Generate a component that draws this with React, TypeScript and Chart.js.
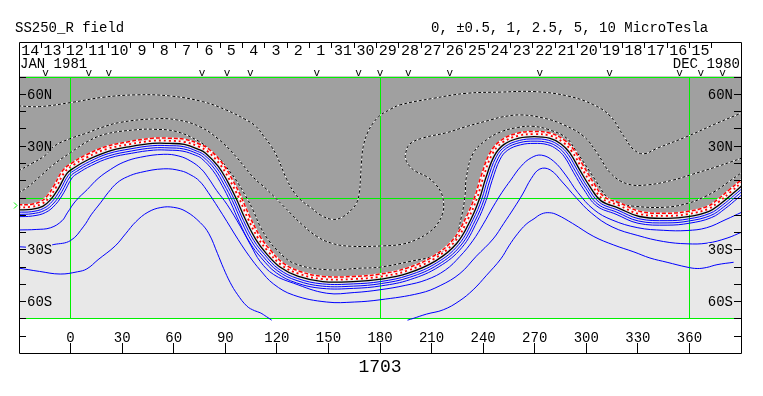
import React, { useEffect, useRef } from 'react';
import { Chart, registerables } from 'chart.js';

Chart.register(...registerables);

// ---------- axes / labels ----------
const LON_MIN = -30;
const LON_MAX = 390;
const LAT_MIN = -90;
const LAT_MAX = 90;
const MAP_LAT = 70;
const X_TICKS = [0, 30, 60, 90, 120, 150, 180, 210, 240, 270, 300, 330, 360];
const Y_TICKS = [-80, -70, -60, -50, -40, -30, -20, -10, 0, 10, 20, 30, 40, 50, 60, 70];
const Y_LABELS: [number, string][] = [[60, '60N'], [30, '30N'], [-30, '30S'], [-60, '60S']];
const GREEN_LON = [0, 180, 360];
const GREEN_LAT = [-70, 0, 70];
const DAY_LABELS = ['15', '16', '17', '18', '19', '20', '21', '22', '23', '24', '25', '26', '27', '28', '29', '30', '31',
  '1', '2', '3', '4', '5', '6', '7', '8', '9', '10', '11', '12', '13', '14'];
const DAY_RIGHT_LON = 373;
const DAY_STEP = 13;
const OBS_LON = [-14.5, 10.6, 22.2, 76.5, 91, 104.5, 143.3, 167.5, 180, 196.4, 220.6, 272.9, 313.5, 354.2, 366.6, 379.2];
const B0_LAT = -4.6;
const TITLE_LEFT = 'SS250_R field';
const TITLE_RIGHT = '0, \u00b10.5, 1, 2.5, 5, 10 MicroTesla';
const ROTATION = '1703';
const LEFT_DATE = 'JAN 1981';
const RIGHT_DATE = 'DEC 1980';

// ---------- contours [lon, lat] ----------
const NEUTRAL: number[][] = [[-30.5,-4.2],[-23.2,-4.0],[-17.4,-2.3],[-13.9,0.6],[-9.9,6.4],[-4.6,15.6],[0.4,19.7],[9.1,24.7],[20.7,29.5],[34.3,32.4],[47.6,34.3],[57.5,34.3],[66.8,33.6],[75.5,30.7],[80.7,27.8],[88.3,19.8],[94.1,10.4],[99.1,0.6],[104.5,-11.6],[110.3,-22.6],[116.1,-30.3],[123.7,-38.0],[133.5,-42.8],[146.9,-45.7],[164.3,-45.7],[180,-44.3],[195.5,-40.9],[210.8,-34.1],[222.4,-24.5],[230.3,-11.0],[235.2,0.6],[238.7,12.1],[243.9,25.6],[250.3,33.0],[260.0,37.2],[269.6,38.2],[279.3,37.2],[287.0,33.4],[292.8,27.6],[298.6,17.9],[304.4,8.3],[310.2,0.6],[319.9,-3.3],[331.5,-8.1],[347.0,-9.1],[358.7,-8.1],[370.3,-5.2],[376.3,-1.2],[383.2,4.5],[390.5,10.5]];
const NEUTRAL_DOT: number[][] = [[-30.5,-5.7],[-23.0,-5.4],[-16.8,-3.7],[-12.8,-0.4],[-8.6,5.6],[-3.4,14.7],[1.2,18.5],[9.8,23.4],[21.1,28.1],[34.6,30.9],[47.7,32.8],[57.4,32.8],[66.5,32.1],[74.9,29.3],[79.7,26.7],[87.1,18.9],[92.8,9.7],[97.8,0.0],[103.2,-12.2],[109.0,-23.4],[115.0,-31.3],[122.8,-39.2],[133.0,-44.2],[146.8,-47.2],[164.4,-47.2],[180.2,-45.8],[196.0,-42.3],[211.6,-35.4],[223.5,-25.5],[231.6,-11.7],[236.6,0.1],[240.1,11.6],[245.2,24.9],[251.2,31.8],[260.4,35.7],[269.6,36.7],[278.9,35.8],[286.1,32.2],[291.6,26.7],[297.3,17.1],[303.2,7.5],[309.3,-0.6],[319.3,-4.7],[331.2,-9.6],[347.0,-10.6],[359.0,-9.6],[370.9,-6.6],[377.3,-2.3],[384.3,3.5],[391.2,9.4]];
const ZERO_BLACK: number[][] = [[-30.5,-7.2],[-22.8,-6.9],[-16.2,-5.1],[-11.7,-1.4],[-7.3,4.8],[-2.2,13.8],[2.1,17.2],[10.4,22.0],[21.6,26.6],[34.8,29.5],[47.8,31.3],[57.4,31.3],[66.2,30.7],[74.3,27.9],[78.7,25.5],[85.9,18.0],[91.5,8.9],[96.4,-0.7],[101.8,-12.9],[107.7,-24.2],[113.8,-32.3],[122.0,-40.4],[132.5,-45.7],[146.6,-48.7],[164.4,-48.7],[180.5,-47.3],[196.4,-43.8],[212.4,-36.7],[224.7,-26.5],[233.0,-12.4],[238.0,-0.4],[241.5,11.1],[246.5,24.1],[252.0,30.6],[260.8,34.3],[269.6,35.2],[278.5,34.3],[285.3,31.0],[290.4,25.8],[296.0,16.3],[301.9,6.6],[308.4,-1.8],[318.8,-6.1],[330.9,-11.0],[347.0,-12.1],[359.2,-11.1],[371.4,-8.0],[378.3,-3.5],[385.4,2.4],[392.2,8.3]];
const POS_1: number[][] = [[-30.5,-8.5],[-22.6,-8.2],[-15.7,-6.3],[-10.7,-2.3],[-6.2,4.1],[-1.2,13.0],[2.8,16.1],[11.0,20.8],[21.9,25.4],[35.1,28.2],[47.9,30.0],[57.3,30.0],[65.9,29.4],[73.8,26.7],[77.9,24.5],[84.9,17.2],[90.4,8.3],[95.2,-1.2],[100.6,-13.4],[106.6,-24.9],[112.9,-33.1],[121.2,-41.5],[132.1,-46.9],[146.5,-50.0],[164.5,-50.0],[180.6,-48.6],[196.8,-45.0],[213.0,-37.8],[225.7,-27.3],[234.1,-12.9],[239.2,-0.9],[242.7,10.7],[247.6,23.5],[252.8,29.5],[261.1,33.0],[269.6,33.9],[278.1,33.1],[284.5,29.9],[289.4,25.0],[294.9,15.7],[300.8,5.9],[307.6,-2.8],[318.3,-7.3],[330.6,-12.3],[347.0,-13.4],[359.4,-12.4],[371.9,-9.2],[379.1,-4.5],[386.3,1.5],[393.1,7.3]];
const POS_2: number[][] = [[-30.5,-9.8],[-22.4,-9.4],[-15.2,-7.5],[-9.7,-3.2],[-5.1,3.4],[-0.2,12.2],[3.5,15.1],[11.6,19.7],[22.3,24.1],[35.3,26.9],[48.0,28.7],[57.3,28.7],[65.7,28.1],[73.3,25.6],[77.1,23.5],[83.9,16.4],[89.2,7.7],[94.1,-1.8],[99.5,-14.0],[105.5,-25.6],[111.9,-34.0],[120.5,-42.5],[131.7,-48.1],[146.4,-51.3],[164.5,-51.3],[180.8,-49.8],[197.2,-46.2],[213.7,-38.9],[226.7,-28.1],[235.3,-13.5],[240.5,-1.3],[244.0,10.3],[248.8,22.9],[253.5,28.5],[261.5,31.8],[269.6,32.6],[277.8,31.8],[283.8,28.9],[288.3,24.2],[293.8,15.0],[299.8,5.2],[306.8,-3.9],[317.8,-8.5],[330.3,-13.6],[347.0,-14.7],[359.7,-13.6],[372.4,-10.4],[379.9,-5.5],[387.2,0.6],[393.9,6.4]];
const POS_3: number[][] = [[-30.5,-11.1],[-22.2,-10.7],[-14.6,-8.7],[-8.7,-4.0],[-4.0,2.7],[0.9,11.4],[4.2,14.0],[12.1,18.5],[22.7,22.9],[35.5,25.6],[48.2,27.4],[57.2,27.4],[65.4,26.8],[72.8,24.4],[76.2,22.6],[82.8,15.6],[88.1,7.0],[92.9,-2.4],[98.3,-14.6],[104.4,-26.3],[110.9,-34.9],[119.7,-43.6],[131.3,-49.4],[146.3,-52.6],[164.6,-52.6],[181.0,-51.1],[197.6,-47.5],[214.4,-40.0],[227.6,-29.0],[236.4,-14.1],[241.7,-1.7],[245.2,9.8],[249.9,22.2],[254.3,27.4],[261.8,30.5],[269.6,31.3],[277.4,30.6],[283.0,27.8],[287.3,23.5],[292.7,14.3],[298.7,4.4],[306.1,-4.9],[317.3,-9.7],[330.1,-14.9],[347.0,-16.0],[359.9,-14.9],[372.9,-11.6],[380.8,-6.4],[388.2,-0.3],[394.8,5.4]];
const POS_4: number[][] = [[-30.5,-18.8],[-20,-18.5],[-11.6,-17.5],[-5,-13.5],[-1.9,-8.9],[3,-2],[9.7,4.6],[16,11],[23.2,16.2],[31,20.5],[40.6,23.3],[54.2,25],[63,24],[70,21],[76,16.5],[80,11.5],[85,4],[91,-4],[98.7,-16.6],[105,-28],[110.3,-37],[118,-44.5],[129.7,-49.6],[149,-55.4],[165,-55],[180,-53.4],[195,-50.8],[207.1,-47.6],[218,-42],[226.5,-34.1],[234,-25],[240,-15.5],[246,-5],[251,3],[256,10],[262,18],[268,23],[274,24.5],[281,21],[288,13],[295,3],[304.4,-7],[315,-13],[330,-17.5],[345,-19],[358.6,-19.1],[370,-17.5],[381.3,-12.7],[390.5,-8.5]];
const POS_5: number[][] = [[-30.5,-28.5],[-20,-28.8],[-9.7,-27.2],[0,-24.9],[7.7,-16.6],[12,-10],[17.4,-3.1],[22,3],[27.1,8.5],[33,12],[40.6,14.5],[54.2,16.6],[64,15.5],[70,13],[75,9.5],[80,3],[88.5,-10],[97.5,-24.4],[104,-34],[110.3,-42],[118,-50],[129.7,-56.5],[149,-60.5],[165,-60.5],[180,-59.2],[203.2,-55.4],[215,-51],[226.5,-44],[236,-34],[245.8,-24],[252,-15],[258,-6],[263,2],[268,11],[273,16.5],[279,16],[286,9],[294,0],[303,-9],[315,-17],[330,-22],[345,-25.5],[358.6,-26.8],[370.3,-26.4],[381.9,-23.5],[390.5,-20]];
const POS_6A: number[][] = [[-30.5,-40.8],[-18,-42.8],[-6,-44.3],[4,-43],[9.5,-41.3],[16,-36],[26,-28],[32,-21],[38,-14],[45,-8.5],[52.5,-5.8],[60,-5.7],[67.2,-8.1],[75.5,-14.6],[80.5,-21],[85.5,-32.5],[89,-41],[92.9,-49.3],[97,-56],[102.6,-62.9],[107,-65.5],[110.3,-66.7],[114,-69],[117,-71]];
const POS_6B: number[][] = [[196,-71],[199.3,-70],[207,-67.5],[216.8,-65],[226,-60],[234.2,-53.4],[242,-45],[250.3,-35.5],[255,-28],[260,-21],[265,-15.5],[269.6,-12.3],[274,-9.5],[278.5,-8.8],[283,-10],[292,-15],[304.4,-22.6],[316,-27.5],[327.7,-31.5],[337,-35],[347,-37.5],[358.6,-40.3],[364.5,-41.1],[370,-40.5],[376,-38.9],[385.7,-37.5]];
const NEG_1: number[][] = [[-30.5,53],[-18,52.6],[0.4,55],[18.8,58],[38.1,59.4],[57.5,58.8],[76.8,55.5],[90.4,50.7],[102,45],[108,41],[112.3,35.5],[116.5,30],[120,23.9],[125.8,10.4],[130,3],[134,-1.5],[140,-6],[146,-10.5],[152.9,-12.7],[158.7,-11],[163.5,-7],[166.5,-3],[168,3],[168.6,10.4],[169.2,20],[170.3,29.7],[173,38],[176.1,43.2],[180,47.5],[185.8,50.9],[191.6,53.6],[211,57.4],[230.3,60.3],[250.3,61],[269.6,61.3],[289,58.8],[304.4,53.6],[314.1,46.9],[321.9,35.3],[327.7,27.6],[333.5,25.3],[341.2,28.5],[358.6,35.3],[376,43],[390.5,49]];
const NEG_2: number[][] = [[-30.5,15.3],[-22,20],[-15.1,24.1],[-9.3,29.9],[0.4,34.3],[9.1,37.2],[18,40.5],[28.5,43.4],[47.8,45.5],[61.4,45],[74.9,41.1],[86.5,33.4],[96.2,23.7],[105.9,12.1],[114.2,4.6],[123.9,-5],[133.5,-14.6],[143.2,-22.5],[152,-26.5],[162.6,-28.2],[181.9,-28],[193,-27],[201.3,-24.3],[208,-20.5],[212.9,-16],[216.5,-9],[217,-3],[215.5,3],[212,8],[207.1,12.1],[201,15],[197.4,17.9],[195,22],[195,26],[197.4,31],[205.1,34.5],[218.7,37.5],[230.3,41.1],[245.8,45.3],[250.3,46.5],[261.9,47.8],[275.4,45.9],[287,42],[298.6,35.3],[306.4,25.6],[314.1,14.1],[323.8,7.9],[335.4,7.3],[350.9,10.2],[360.6,13.1],[376.1,17.9],[390.5,22.8]];
const NEG_3: number[][] = [[-30.5,2.5],[-25,6],[-18,12],[-10,19],[0,26],[10,32.5],[20.7,36.8],[38.1,39.2],[47.8,39.5],[61.4,38.2],[74.9,32.4],[80.5,28],[86.5,22.7],[91.5,16.5],[96.2,10.2],[102,0.6],[106,-7],[110.3,-16.8],[115,-24.5],[120,-30.3],[129.7,-38],[149,-41.8],[168.4,-40.9],[180,-40.3],[197.4,-37],[212.9,-33.2],[222.6,-26.4],[227.4,-11],[229.4,0.6],[230.3,12.1],[234.2,25.6],[242,33.4],[250.3,38],[260,40.5],[269,41.2],[279,39],[288.4,34.5],[294,27],[300,18.1],[306,9],[311.6,0.8],[318,-3],[327.1,-5],[346.5,-5.6],[360,-3.1],[369,0.5],[375.5,4],[382,8.5],[390.5,14.5]];

// ---------- style ----------
const DARK = '#a0a0a0';
const LIGHT = '#e8e8e8';
const GREEN = '#00f000';
const BLUE = '#0000ff';
const RED = '#ff0000';
const FONT = '"Liberation Mono", "DejaVu Sans Mono", monospace';

const pts = (a: number[][]) => a.map(([x, y]) => ({ x, y }));

function line(data: number[][], color: string, width: number, order: number, dash: number[] = []) {
  return {
    type: 'line' as const,
    data: pts(data),
    borderColor: color,
    borderWidth: width,
    borderDash: dash,
    pointRadius: 0,
    tension: 0.4,
    fill: false,
    order,
  };
}

const decoPlugin = {
  id: 'deco',
  beforeDatasetsDraw(chart: any) {
    const { ctx } = chart;
    const xs = chart.scales.x;
    const ys = chart.scales.y;
    const l = xs.getPixelForValue(LON_MIN);
    const r = xs.getPixelForValue(LON_MAX);
    const t = ys.getPixelForValue(MAP_LAT);
    const b = ys.getPixelForValue(-MAP_LAT);
    ctx.save();
    ctx.fillStyle = LIGHT;
    ctx.fillRect(l, t, r - l, b - t);
    ctx.restore();
  },
  afterDatasetDraw(chart: any, args: any) {
    // reference grid (green) right after the polarity fill
    if (args.index !== 0) return;
    const { ctx } = chart;
    const xs = chart.scales.x;
    const ys = chart.scales.y;
    const t = Math.round(ys.getPixelForValue(MAP_LAT));
    const b = Math.round(ys.getPixelForValue(-MAP_LAT));
    const l = Math.round(xs.getPixelForValue(LON_MIN));
    const r = Math.round(xs.getPixelForValue(LON_MAX));
    ctx.save();
    ctx.strokeStyle = GREEN;
    ctx.lineWidth = 1;
    ctx.beginPath();
    for (const lon of GREEN_LON) {
      const px = Math.floor(xs.getPixelForValue(lon)) + 0.5;
      ctx.moveTo(px, t); ctx.lineTo(px, b + 1);
    }
    for (const lat of GREEN_LAT) {
      const py = Math.round(ys.getPixelForValue(lat)) + 0.5;
      ctx.moveTo(l, py); ctx.lineTo(r, py);
    }
    ctx.stroke();
    ctx.restore();
  },
  afterDatasetsDraw(chart: any) {
    const { ctx } = chart;
    const xs = chart.scales.x;
    const ys = chart.scales.y;
    const L = Math.round(xs.getPixelForValue(LON_MIN));
    const R = Math.round(xs.getPixelForValue(LON_MAX));
    const T = Math.round(ys.getPixelForValue(LAT_MAX));
    const B = Math.round(ys.getPixelForValue(LAT_MIN));
    ctx.save();

    // latitude labels with backdrop
    ctx.font = `14px ${FONT}`;
    ctx.textBaseline = 'middle';
    for (const [lat, label] of Y_LABELS) {
      const py = Math.round(ys.getPixelForValue(lat));
      const w = ctx.measureText(label).width;
      ctx.fillStyle = lat > 0 ? DARK : LIGHT;
      ctx.fillRect(L + 7, py - 6, w + 1, 12);
      ctx.fillRect(R - 8 - w, py - 6, w + 1, 12);
      ctx.fillStyle = '#000';
      ctx.textAlign = 'left';
      ctx.fillText(label, L + 8, py + 1);
      ctx.textAlign = 'right';
      ctx.fillText(label, R - 8, py + 1);
    }

    // frame + ticks
    ctx.strokeStyle = '#000';
    ctx.lineWidth = 1;
    ctx.beginPath();
    ctx.rect(L + 0.5, T + 0.5, R - L, B - T);
    for (const lat of Y_TICKS) {
      const py = Math.round(ys.getPixelForValue(lat)) + 0.5;
      ctx.moveTo(L, py); ctx.lineTo(L + 7, py);
      ctx.moveTo(R, py); ctx.lineTo(R - 7, py);
    }
    for (const lon of X_TICKS) {
      const px = Math.floor(xs.getPixelForValue(lon)) + 0.5;
      ctx.moveTo(px, B); ctx.lineTo(px, B - 10);
    }
    DAY_LABELS.forEach((_, j) => {
      const px = Math.floor(xs.getPixelForValue(DAY_RIGHT_LON - DAY_STEP * j)) + 0.5;
      ctx.moveTo(px, T); ctx.lineTo(px, T + 6);
    });
    ctx.stroke();

    // x labels
    ctx.fillStyle = '#000';
    ctx.textAlign = 'center';
    ctx.textBaseline = 'alphabetic';
    for (const lon of X_TICKS) {
      ctx.fillText(String(lon), xs.getPixelForValue(lon), B - 11);
    }
    // day labels
    ctx.font = `15px ${FONT}`;
    DAY_LABELS.forEach((lab, j) => {
      const c = DAY_RIGHT_LON - DAY_STEP * j - DAY_STEP / 2;
      ctx.fillText(lab, xs.getPixelForValue(c), T + 13);
    });
    ctx.font = `14px ${FONT}`;
    ctx.textAlign = 'left';
    ctx.fillText(LEFT_DATE, L + 1, T + 26);
    ctx.textAlign = 'right';
    ctx.fillText(RIGHT_DATE, R - 1, T + 26);

    // observation markers
    ctx.font = `11px ${FONT}`;
    ctx.textAlign = 'center';
    for (const lon of OBS_LON) {
      ctx.fillText('v', xs.getPixelForValue(lon), T + 34);
    }

    // titles
    ctx.font = `14px ${FONT}`;
    ctx.textAlign = 'left';
    ctx.fillText(TITLE_LEFT, 15, 32);
    ctx.fillText(TITLE_RIGHT, 431, 32);
    ctx.font = `18px ${FONT}`;
    ctx.textAlign = 'center';
    ctx.fillText(ROTATION, xs.getPixelForValue(180), 372);

    // sub-earth latitude marker
    const by = Math.round(ys.getPixelForValue(B0_LAT)) + 0.5;
    ctx.strokeStyle = GREEN;
    ctx.beginPath();
    ctx.moveTo(L - 5, by - 3); ctx.lineTo(L - 2, by); ctx.lineTo(L - 5, by + 3);
    ctx.stroke();
    ctx.restore();
  },
};

export default function App() {
  const ref = useRef<HTMLCanvasElement>(null);
  useEffect(() => {
    const datasets: any[] = [];
    datasets.push({
      type: 'line', data: pts(NEUTRAL), borderWidth: 0, borderColor: 'rgba(0,0,0,0)',
      backgroundColor: DARK, fill: { value: MAP_LAT }, pointRadius: 0, tension: 0.4, order: 100,
    });
    for (const d of [NEG_1, NEG_2, NEG_3]) {
      datasets.push(line(d, '#ffffff', 1, 60));
      datasets.push(line(d, '#000000', 1, 59, [3, 2]));
    }
    for (const d of [POS_4, POS_5, POS_6A, POS_6B]) datasets.push(line(d, BLUE, 1, 40));
    for (const d of [POS_3, POS_2, POS_1]) datasets.push(line(d, BLUE, 1, 30));
    datasets.push(line(ZERO_BLACK, '#000000', 1.3, 25));
    datasets.push(line(NEUTRAL_DOT, '#ffffff', 1.8, 22));
    datasets.push(line(NEUTRAL_DOT, RED, 1.8, 21, [2, 3]));
    datasets.push(line(NEUTRAL, '#ffffff', 1.5, 12));
    datasets.push(line(NEUTRAL, RED, 1.5, 11, [4, 2]));

    const chart = new Chart(ref.current as HTMLCanvasElement, {
      type: 'line',
      data: { datasets },
      options: {
        animation: false,
        responsive: false,
        events: [],
        layout: { padding: { left: 19, top: 42, right: 22, bottom: 43 } },
        plugins: { legend: { display: false }, tooltip: { enabled: false } },
        scales: {
          x: { type: 'linear', min: LON_MIN, max: LON_MAX, display: false },
          y: { type: 'linear', min: LAT_MIN, max: LAT_MAX, display: false },
        },
      },
      plugins: [decoPlugin],
    } as any);
    return () => chart.destroy();
  }, []);
  return (
    <div style={{ position: 'absolute', left: 0, top: 0, width: 763, height: 396, background: '#ffffff' }}>
      <canvas ref={ref} width={763} height={396} style={{ width: 763, height: 396, display: 'block' }} />
    </div>
  );
}
